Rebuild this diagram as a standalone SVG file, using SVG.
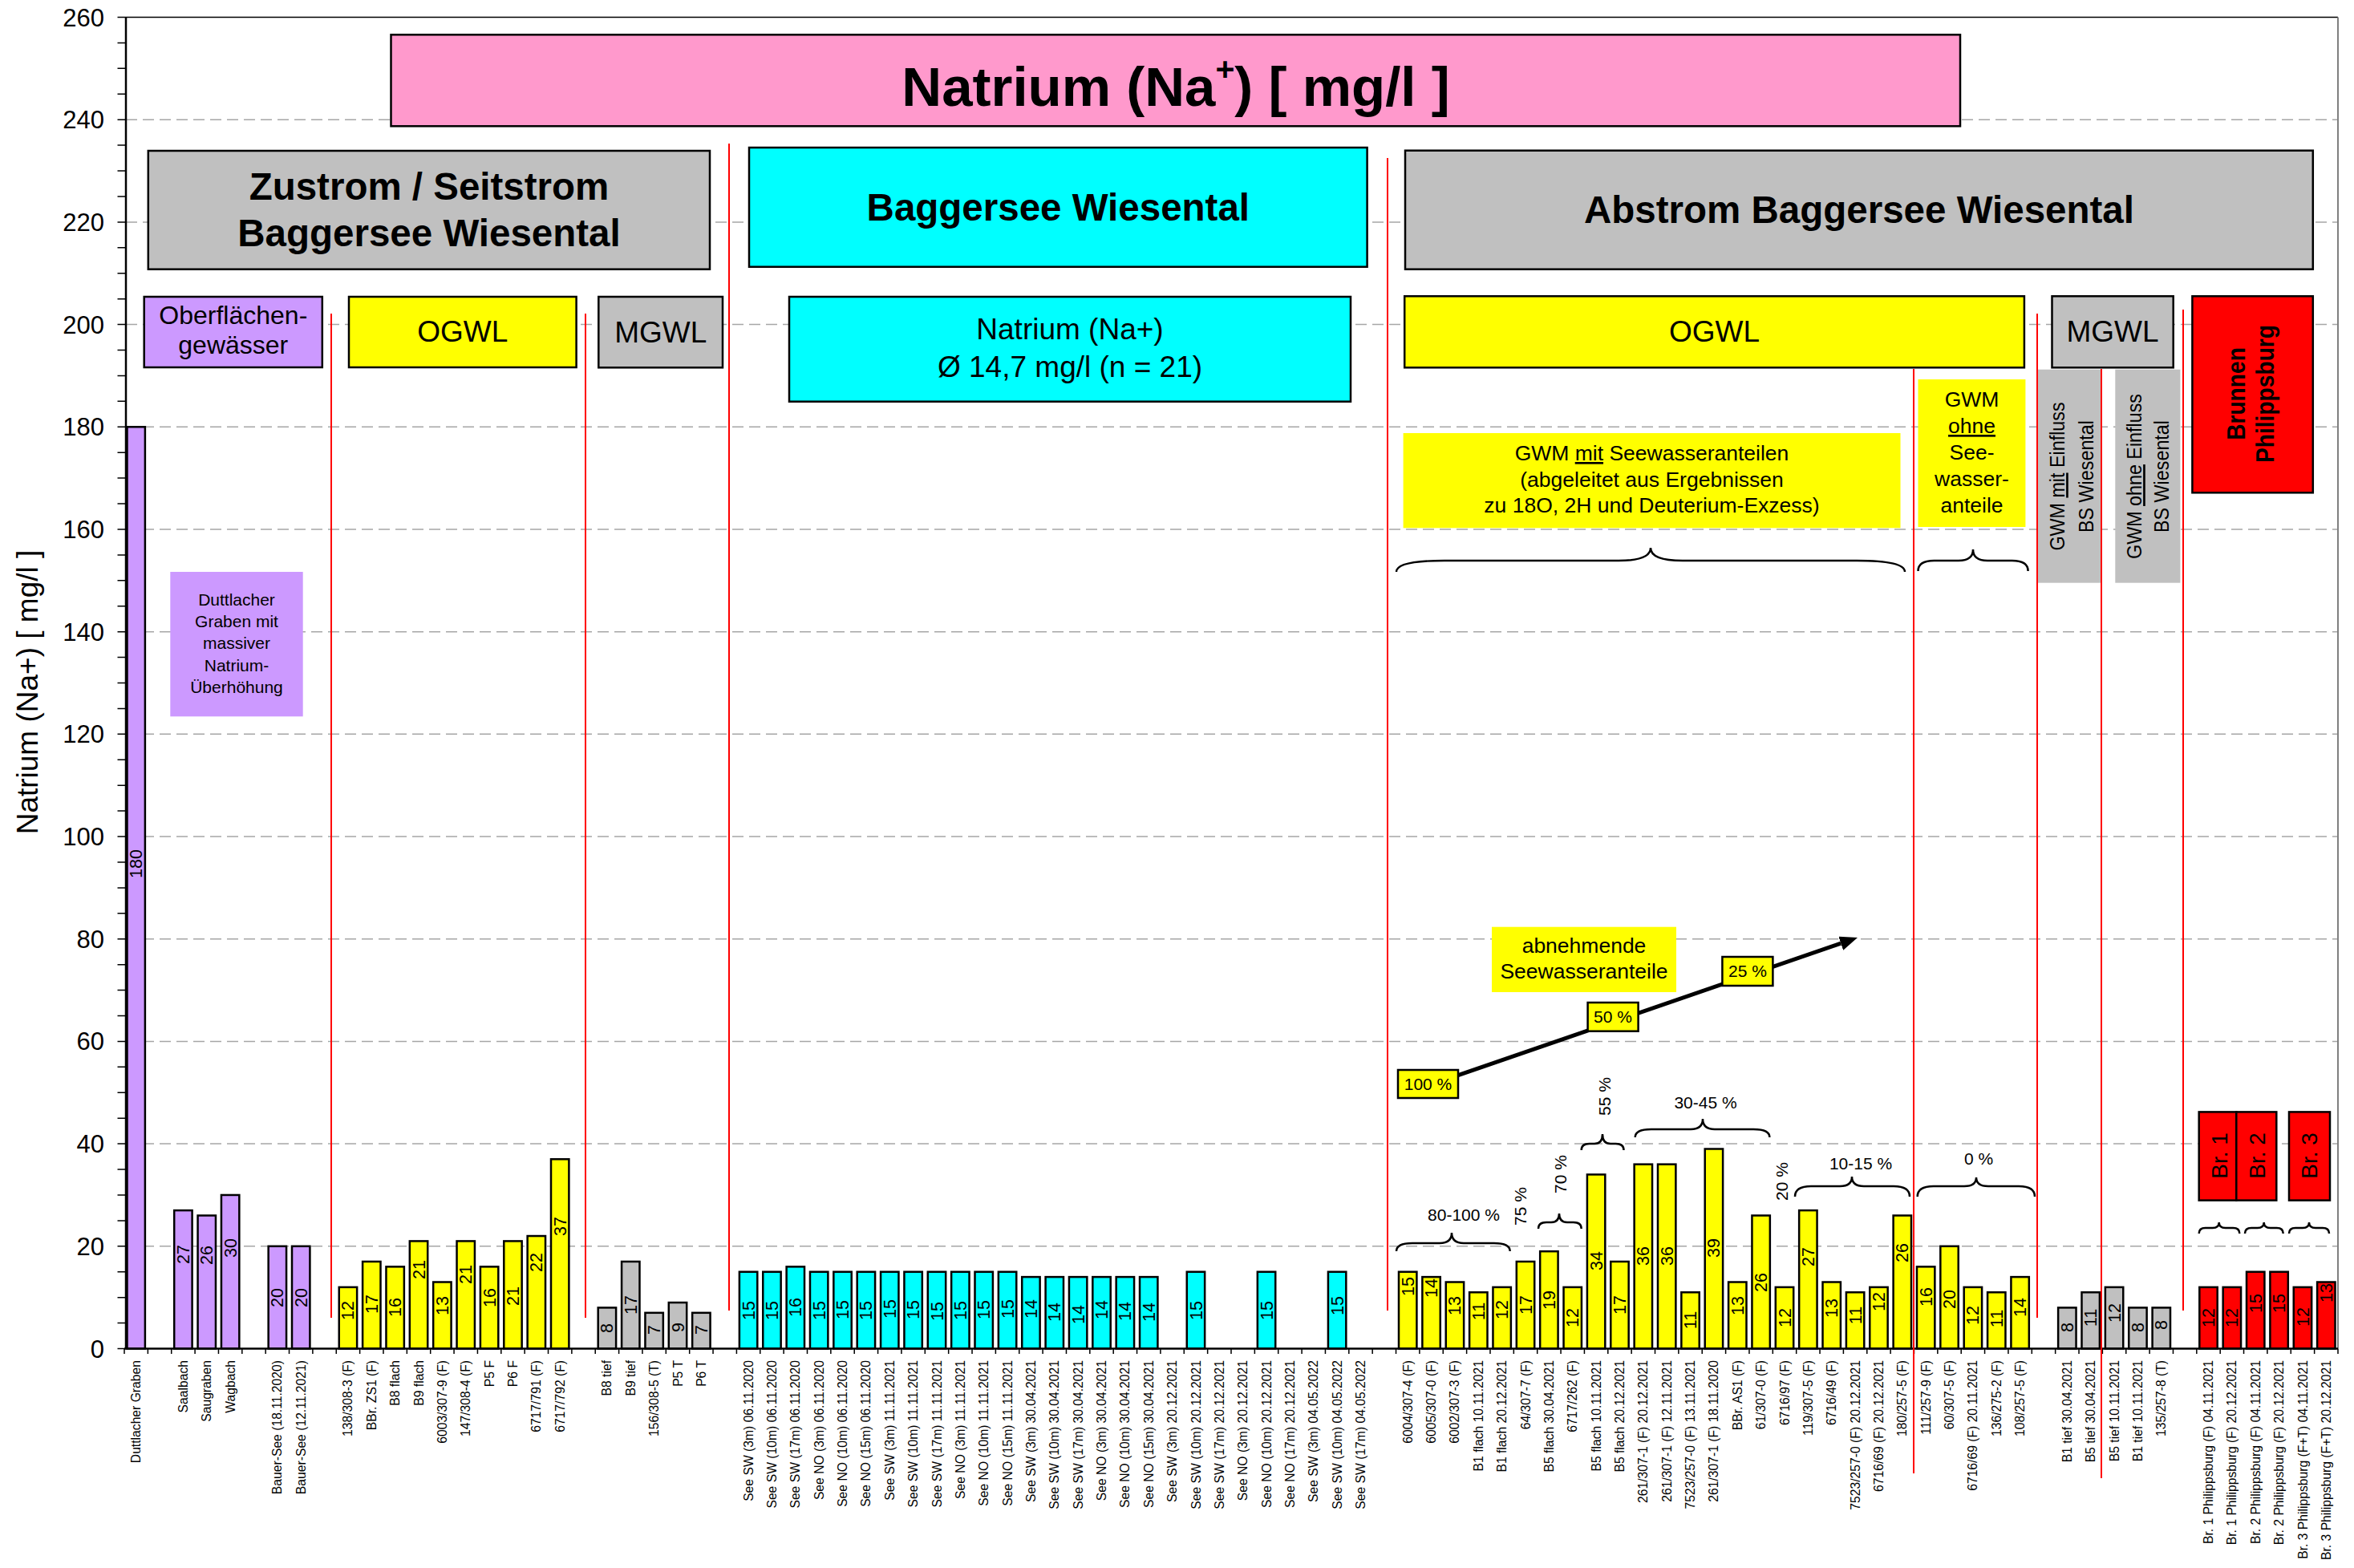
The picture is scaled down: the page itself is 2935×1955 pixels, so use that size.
<svg xmlns="http://www.w3.org/2000/svg" width="2935" height="1955" viewBox="0 0 2935 1955">
<defs>
<style>
text{font-family:"Liberation Sans",Arial,sans-serif;fill:#000}
.yl{font-size:31px;text-anchor:end}
.xl{font-size:15.7px;text-anchor:end}
.v{font-size:21.5px;text-anchor:middle}
.m{text-anchor:middle}
.h{font-size:47.5px;font-weight:bold;text-anchor:middle}
.s37{font-size:37px;text-anchor:middle}
.b{stroke:#000;stroke-width:2.5}
.bx{stroke:#000;stroke-width:2.5}
.p{fill:#CC99FF}.y{fill:#FFFF00}.g{fill:#C0C0C0}.c{fill:#00FFFF}.r{fill:#FF0000}.k{fill:#FF99CC}
.grid{fill:none;stroke:#A6A6A6;stroke-width:1.5;stroke-dasharray:14 7}
.tick{fill:none;stroke:#000;stroke-width:1.5}
.sep{fill:none;stroke:#FF0000;stroke-width:2}
.brace{fill:none;stroke:#000;stroke-width:2.5}
.pc{font-size:21px;text-anchor:middle}
.n26{font-size:26.5px;text-anchor:middle}
.rv{font-size:26.5px;text-anchor:middle}
</style>
<marker id="ah" markerWidth="4.4" markerHeight="3.6" refX="0" refY="1.8" orient="auto" markerUnits="strokeWidth">
<path d="M0,0 L4.4,1.8 L0,3.6 z" fill="#000"/>
</marker>
</defs>
<rect width="2935" height="1955" fill="#fff"/>

<!-- horizontal gridlines every 20 mg/l -->
<g id="grid">
<path class="grid" d="M157 1553.81H2914M157 1426.12H2914M157 1298.42H2914M157 1170.73H2914M157 1043.04H2914M157 915.35H2914M157 787.65H2914M157 659.96H2914M157 532.27H2914M157 404.58H2914M157 276.88H2914M157 149.19H2914"/>
</g>

<!-- axes, ticks and tick labels -->
<g id="axes">
<path d="M157 21.5H2915" fill="none" stroke="#000" stroke-width="1.5"/>
<path d="M2915 21.5V1681.5" fill="none" stroke="#808080" stroke-width="2"/>
<path class="tick" d="M146.5 1681.5H157M146.5 1649.58H157M146.5 1617.65H157M146.5 1585.73H157M146.5 1553.81H157M146.5 1521.88H157M146.5 1489.96H157M146.5 1458.04H157M146.5 1426.12H157M146.5 1394.19H157M146.5 1362.27H157M146.5 1330.35H157M146.5 1298.42H157M146.5 1266.5H157M146.5 1234.58H157M146.5 1202.65H157M146.5 1170.73H157M146.5 1138.81H157M146.5 1106.88H157M146.5 1074.96H157M146.5 1043.04H157M146.5 1011.12H157M146.5 979.19H157M146.5 947.27H157M146.5 915.35H157M146.5 883.42H157M146.5 851.5H157M146.5 819.58H157M146.5 787.65H157M146.5 755.73H157M146.5 723.81H157M146.5 691.88H157M146.5 659.96H157M146.5 628.04H157M146.5 596.12H157M146.5 564.19H157M146.5 532.27H157M146.5 500.35H157M146.5 468.42H157M146.5 436.5H157M146.5 404.58H157M146.5 372.65H157M146.5 340.73H157M146.5 308.81H157M146.5 276.88H157M146.5 244.96H157M146.5 213.04H157M146.5 181.12H157M146.5 149.19H157M146.5 117.27H157M146.5 85.35H157M146.5 53.42H157M146.5 21.5H157"/>
<path class="tick" d="M155 1681.5V1688M184.36 1681.5V1688M213.72 1681.5V1688M243.09 1681.5V1688M272.45 1681.5V1688M301.81 1681.5V1688M331.17 1681.5V1688M360.53 1681.5V1688M389.89 1681.5V1688M419.26 1681.5V1688M448.62 1681.5V1688M477.98 1681.5V1688M507.34 1681.5V1688M536.7 1681.5V1688M566.06 1681.5V1688M595.43 1681.5V1688M624.79 1681.5V1688M654.15 1681.5V1688M683.51 1681.5V1688M712.87 1681.5V1688M742.23 1681.5V1688M771.6 1681.5V1688M800.96 1681.5V1688M830.32 1681.5V1688M859.68 1681.5V1688M889.04 1681.5V1688M918.4 1681.5V1688M947.77 1681.5V1688M977.13 1681.5V1688M1006.49 1681.5V1688M1035.85 1681.5V1688M1065.21 1681.5V1688M1094.57 1681.5V1688M1123.94 1681.5V1688M1153.3 1681.5V1688M1182.66 1681.5V1688M1212.02 1681.5V1688M1241.38 1681.5V1688M1270.74 1681.5V1688M1300.11 1681.5V1688M1329.47 1681.5V1688M1358.83 1681.5V1688M1388.19 1681.5V1688M1417.55 1681.5V1688M1446.91 1681.5V1688M1476.28 1681.5V1688M1505.64 1681.5V1688M1535 1681.5V1688M1564.36 1681.5V1688M1593.72 1681.5V1688M1623.09 1681.5V1688M1652.45 1681.5V1688M1681.81 1681.5V1688M1711.17 1681.5V1688M1740.53 1681.5V1688M1769.89 1681.5V1688M1799.26 1681.5V1688M1828.62 1681.5V1688M1857.98 1681.5V1688M1887.34 1681.5V1688M1916.7 1681.5V1688M1946.06 1681.5V1688M1975.43 1681.5V1688M2004.79 1681.5V1688M2034.15 1681.5V1688M2063.51 1681.5V1688M2092.87 1681.5V1688M2122.23 1681.5V1688M2151.6 1681.5V1688M2180.96 1681.5V1688M2210.32 1681.5V1688M2239.68 1681.5V1688M2269.04 1681.5V1688M2298.4 1681.5V1688M2327.77 1681.5V1688M2357.13 1681.5V1688M2386.49 1681.5V1688M2415.85 1681.5V1688M2445.21 1681.5V1688M2474.57 1681.5V1688M2503.94 1681.5V1688M2533.3 1681.5V1688M2562.66 1681.5V1688M2592.02 1681.5V1688M2621.38 1681.5V1688M2650.74 1681.5V1688M2680.11 1681.5V1688M2709.47 1681.5V1688M2738.83 1681.5V1688M2768.19 1681.5V1688M2797.55 1681.5V1688M2826.91 1681.5V1688M2856.28 1681.5V1688M2885.64 1681.5V1688M2915 1681.5V1688"/>
<text class="yl" x="130" y="1692.5">0</text>
<text class="yl" x="130" y="1564.8">20</text>
<text class="yl" x="130" y="1437.1">40</text>
<text class="yl" x="130" y="1309.4">60</text>
<text class="yl" x="130" y="1181.7">80</text>
<text class="yl" x="130" y="1054">100</text>
<text class="yl" x="130" y="926.4">120</text>
<text class="yl" x="130" y="798.7">140</text>
<text class="yl" x="130" y="671">160</text>
<text class="yl" x="130" y="543.3">180</text>
<text class="yl" x="130" y="415.6">200</text>
<text class="yl" x="130" y="287.9">220</text>
<text class="yl" x="130" y="160.2">240</text>
<text class="yl" x="130" y="32.5">260</text>
<text class="m" font-size="37" transform="translate(46.7 863) rotate(-90)">Natrium (Na+) [ mg/l ]</text>
</g>

<!-- bars: one per sample, baseline y=1681.5, 6.3846 px per mg/l -->
<g id="bars">
<rect class="b p" x="158.48" y="532.27" width="22.4" height="1149.23"/>
<rect class="b p" x="217.2" y="1509.12" width="22.4" height="172.38"/>
<rect class="b p" x="246.57" y="1515.5" width="22.4" height="166"/>
<rect class="b p" x="275.93" y="1489.96" width="22.4" height="191.54"/>
<rect class="b p" x="334.65" y="1553.81" width="22.4" height="127.69"/>
<rect class="b p" x="364.01" y="1553.81" width="22.4" height="127.69"/>
<rect class="b y" x="422.74" y="1604.88" width="22.4" height="76.62"/>
<rect class="b y" x="452.1" y="1572.96" width="22.4" height="108.54"/>
<rect class="b y" x="481.46" y="1579.35" width="22.4" height="102.15"/>
<rect class="b y" x="510.82" y="1547.42" width="22.4" height="134.08"/>
<rect class="b y" x="540.18" y="1598.5" width="22.4" height="83"/>
<rect class="b y" x="569.54" y="1547.42" width="22.4" height="134.08"/>
<rect class="b y" x="598.91" y="1579.35" width="22.4" height="102.15"/>
<rect class="b y" x="628.27" y="1547.42" width="22.4" height="134.08"/>
<rect class="b y" x="657.63" y="1541.04" width="22.4" height="140.46"/>
<rect class="b y" x="686.99" y="1445.27" width="22.4" height="236.23"/>
<rect class="b g" x="745.71" y="1630.42" width="22.4" height="51.08"/>
<rect class="b g" x="775.08" y="1572.96" width="22.4" height="108.54"/>
<rect class="b g" x="804.44" y="1636.81" width="22.4" height="44.69"/>
<rect class="b g" x="833.8" y="1624.04" width="22.4" height="57.46"/>
<rect class="b g" x="863.16" y="1636.81" width="22.4" height="44.69"/>
<rect class="b c" x="921.89" y="1585.73" width="22.4" height="95.77"/>
<rect class="b c" x="951.25" y="1585.73" width="22.4" height="95.77"/>
<rect class="b c" x="980.61" y="1579.35" width="22.4" height="102.15"/>
<rect class="b c" x="1009.97" y="1585.73" width="22.4" height="95.77"/>
<rect class="b c" x="1039.33" y="1585.73" width="22.4" height="95.77"/>
<rect class="b c" x="1068.69" y="1585.73" width="22.4" height="95.77"/>
<rect class="b c" x="1098.06" y="1585.73" width="22.4" height="95.77"/>
<rect class="b c" x="1127.42" y="1585.73" width="22.4" height="95.77"/>
<rect class="b c" x="1156.78" y="1585.73" width="22.4" height="95.77"/>
<rect class="b c" x="1186.14" y="1585.73" width="22.4" height="95.77"/>
<rect class="b c" x="1215.5" y="1585.73" width="22.4" height="95.77"/>
<rect class="b c" x="1244.86" y="1585.73" width="22.4" height="95.77"/>
<rect class="b c" x="1274.23" y="1592.12" width="22.4" height="89.38"/>
<rect class="b c" x="1303.59" y="1592.12" width="22.4" height="89.38"/>
<rect class="b c" x="1332.95" y="1592.12" width="22.4" height="89.38"/>
<rect class="b c" x="1362.31" y="1592.12" width="22.4" height="89.38"/>
<rect class="b c" x="1391.67" y="1592.12" width="22.4" height="89.38"/>
<rect class="b c" x="1421.03" y="1592.12" width="22.4" height="89.38"/>
<rect class="b c" x="1479.76" y="1585.73" width="22.4" height="95.77"/>
<rect class="b c" x="1567.84" y="1585.73" width="22.4" height="95.77"/>
<rect class="b c" x="1655.93" y="1585.73" width="22.4" height="95.77"/>
<rect class="b y" x="1744.01" y="1585.73" width="22.4" height="95.77"/>
<rect class="b y" x="1773.37" y="1592.12" width="22.4" height="89.38"/>
<rect class="b y" x="1802.74" y="1598.5" width="22.4" height="83"/>
<rect class="b y" x="1832.1" y="1611.27" width="22.4" height="70.23"/>
<rect class="b y" x="1861.46" y="1604.88" width="22.4" height="76.62"/>
<rect class="b y" x="1890.82" y="1572.96" width="22.4" height="108.54"/>
<rect class="b y" x="1920.18" y="1560.19" width="22.4" height="121.31"/>
<rect class="b y" x="1949.54" y="1604.88" width="22.4" height="76.62"/>
<rect class="b y" x="1978.91" y="1464.42" width="22.4" height="217.08"/>
<rect class="b y" x="2008.27" y="1572.96" width="22.4" height="108.54"/>
<rect class="b y" x="2037.63" y="1451.65" width="22.4" height="229.85"/>
<rect class="b y" x="2066.99" y="1451.65" width="22.4" height="229.85"/>
<rect class="b y" x="2096.35" y="1611.27" width="22.4" height="70.23"/>
<rect class="b y" x="2125.71" y="1432.5" width="22.4" height="249"/>
<rect class="b y" x="2155.08" y="1598.5" width="22.4" height="83"/>
<rect class="b y" x="2184.44" y="1515.5" width="22.4" height="166"/>
<rect class="b y" x="2213.8" y="1604.88" width="22.4" height="76.62"/>
<rect class="b y" x="2243.16" y="1509.12" width="22.4" height="172.38"/>
<rect class="b y" x="2272.52" y="1598.5" width="22.4" height="83"/>
<rect class="b y" x="2301.89" y="1611.27" width="22.4" height="70.23"/>
<rect class="b y" x="2331.25" y="1604.88" width="22.4" height="76.62"/>
<rect class="b y" x="2360.61" y="1515.5" width="22.4" height="166"/>
<rect class="b y" x="2389.97" y="1579.35" width="22.4" height="102.15"/>
<rect class="b y" x="2419.33" y="1553.81" width="22.4" height="127.69"/>
<rect class="b y" x="2448.69" y="1604.88" width="22.4" height="76.62"/>
<rect class="b y" x="2478.06" y="1611.27" width="22.4" height="70.23"/>
<rect class="b y" x="2507.42" y="1592.12" width="22.4" height="89.38"/>
<rect class="b g" x="2566.14" y="1630.42" width="22.4" height="51.08"/>
<rect class="b g" x="2595.5" y="1611.27" width="22.4" height="70.23"/>
<rect class="b g" x="2624.86" y="1604.88" width="22.4" height="76.62"/>
<rect class="b g" x="2654.23" y="1630.42" width="22.4" height="51.08"/>
<rect class="b g" x="2683.59" y="1630.42" width="22.4" height="51.08"/>
<rect class="b r" x="2742.31" y="1604.88" width="22.4" height="76.62"/>
<rect class="b r" x="2771.67" y="1604.88" width="22.4" height="76.62"/>
<rect class="b r" x="2801.03" y="1585.73" width="22.4" height="95.77"/>
<rect class="b r" x="2830.4" y="1585.73" width="22.4" height="95.77"/>
<rect class="b r" x="2859.76" y="1604.88" width="22.4" height="76.62"/>
<rect class="b r" x="2889.12" y="1598.5" width="22.4" height="83"/>
</g>

<!-- axis lines on top of the bars -->
<path d="M157 21.5V1681.5" fill="none" stroke="#000" stroke-width="2.5"/>
<path d="M155 1681.5H2915" fill="none" stroke="#000" stroke-width="2.5"/>

<!-- value labels inside bars -->
<g id="value-labels">
<text class="v" transform="translate(177.2 1077) rotate(-90)">180</text>
<text class="v" transform="translate(235.9 1564) rotate(-90)">27</text>
<text class="v" transform="translate(265.3 1565) rotate(-90)">26</text>
<text class="v" transform="translate(294.6 1556) rotate(-90)">30</text>
<text class="v" transform="translate(353.4 1618) rotate(-90)">20</text>
<text class="v" transform="translate(382.7 1618) rotate(-90)">20</text>
<text class="v" transform="translate(441.4 1634) rotate(-90)">12</text>
<text class="v" transform="translate(470.8 1626) rotate(-90)">17</text>
<text class="v" transform="translate(500.2 1630) rotate(-90)">16</text>
<text class="v" transform="translate(529.5 1583) rotate(-90)">21</text>
<text class="v" transform="translate(558.9 1628) rotate(-90)">13</text>
<text class="v" transform="translate(588.2 1589) rotate(-90)">21</text>
<text class="v" transform="translate(617.6 1618) rotate(-90)">16</text>
<text class="v" transform="translate(647 1616) rotate(-90)">21</text>
<text class="v" transform="translate(676.3 1574) rotate(-90)">22</text>
<text class="v" transform="translate(705.7 1529) rotate(-90)">37</text>
<text class="v" transform="translate(764.4 1656) rotate(-90)">8</text>
<text class="v" transform="translate(793.8 1627) rotate(-90)">17</text>
<text class="v" transform="translate(823.1 1658) rotate(-90)">7</text>
<text class="v" transform="translate(852.5 1655) rotate(-90)">9</text>
<text class="v" transform="translate(881.9 1658) rotate(-90)">7</text>
<text class="v" transform="translate(940.6 1634) rotate(-90)">15</text>
<text class="v" transform="translate(970 1634) rotate(-90)">15</text>
<text class="v" transform="translate(999.3 1630) rotate(-90)">16</text>
<text class="v" transform="translate(1028.7 1634) rotate(-90)">15</text>
<text class="v" transform="translate(1058 1633) rotate(-90)">15</text>
<text class="v" transform="translate(1087.4 1634) rotate(-90)">15</text>
<text class="v" transform="translate(1116.8 1632) rotate(-90)">15</text>
<text class="v" transform="translate(1146.1 1633) rotate(-90)">15</text>
<text class="v" transform="translate(1175.5 1635) rotate(-90)">15</text>
<text class="v" transform="translate(1204.8 1634) rotate(-90)">15</text>
<text class="v" transform="translate(1234.2 1633) rotate(-90)">15</text>
<text class="v" transform="translate(1263.6 1632) rotate(-90)">15</text>
<text class="v" transform="translate(1292.9 1632) rotate(-90)">14</text>
<text class="v" transform="translate(1322.3 1636) rotate(-90)">14</text>
<text class="v" transform="translate(1351.7 1639) rotate(-90)">14</text>
<text class="v" transform="translate(1381 1633) rotate(-90)">14</text>
<text class="v" transform="translate(1410.4 1635) rotate(-90)">14</text>
<text class="v" transform="translate(1439.7 1636) rotate(-90)">14</text>
<text class="v" transform="translate(1498.5 1634) rotate(-90)">15</text>
<text class="v" transform="translate(1586.5 1634) rotate(-90)">15</text>
<text class="v" transform="translate(1674.6 1628) rotate(-90)">15</text>
<text class="v" transform="translate(1762.7 1604) rotate(-90)">15</text>
<text class="v" transform="translate(1792.1 1606) rotate(-90)">14</text>
<text class="v" transform="translate(1821.4 1628) rotate(-90)">13</text>
<text class="v" transform="translate(1850.8 1635) rotate(-90)">11</text>
<text class="v" transform="translate(1880.2 1633) rotate(-90)">12</text>
<text class="v" transform="translate(1909.5 1627) rotate(-90)">17</text>
<text class="v" transform="translate(1938.9 1621) rotate(-90)">19</text>
<text class="v" transform="translate(1968.2 1643) rotate(-90)">12</text>
<text class="v" transform="translate(1997.6 1572) rotate(-90)">34</text>
<text class="v" transform="translate(2027 1627) rotate(-90)">17</text>
<text class="v" transform="translate(2056.3 1566) rotate(-90)">36</text>
<text class="v" transform="translate(2085.7 1566) rotate(-90)">36</text>
<text class="v" transform="translate(2115.1 1646) rotate(-90)">11</text>
<text class="v" transform="translate(2144.4 1556) rotate(-90)">39</text>
<text class="v" transform="translate(2173.8 1628) rotate(-90)">13</text>
<text class="v" transform="translate(2203.1 1599) rotate(-90)">26</text>
<text class="v" transform="translate(2232.5 1643) rotate(-90)">12</text>
<text class="v" transform="translate(2261.9 1567) rotate(-90)">27</text>
<text class="v" transform="translate(2291.2 1631) rotate(-90)">13</text>
<text class="v" transform="translate(2320.6 1640) rotate(-90)">11</text>
<text class="v" transform="translate(2350 1623) rotate(-90)">12</text>
<text class="v" transform="translate(2379.3 1562) rotate(-90)">26</text>
<text class="v" transform="translate(2408.7 1617) rotate(-90)">16</text>
<text class="v" transform="translate(2438 1620) rotate(-90)">20</text>
<text class="v" transform="translate(2467.4 1640) rotate(-90)">12</text>
<text class="v" transform="translate(2496.8 1644) rotate(-90)">11</text>
<text class="v" transform="translate(2526.1 1630) rotate(-90)">14</text>
<text class="v" transform="translate(2584.8 1655) rotate(-90)">8</text>
<text class="v" transform="translate(2614.2 1643) rotate(-90)">11</text>
<text class="v" transform="translate(2643.6 1637) rotate(-90)">12</text>
<text class="v" transform="translate(2672.9 1655) rotate(-90)">8</text>
<text class="v" transform="translate(2702.3 1652) rotate(-90)">8</text>
<text class="v" transform="translate(2761 1643) rotate(-90)">12</text>
<text class="v" transform="translate(2790.4 1643) rotate(-90)">12</text>
<text class="v" transform="translate(2819.7 1625) rotate(-90)">15</text>
<text class="v" transform="translate(2849.1 1625) rotate(-90)">15</text>
<text class="v" transform="translate(2878.5 1642) rotate(-90)">12</text>
<text class="v" transform="translate(2907.8 1612) rotate(-90)">13</text>
</g>

<!-- category labels below the axis -->
<g id="category-labels">
<text class="xl" transform="translate(175.2 1696) rotate(-90)">Duttlacher Graben</text>
<text class="xl" transform="translate(233.9 1696) rotate(-90)">Saalbach</text>
<text class="xl" transform="translate(263.3 1696) rotate(-90)">Saugraben</text>
<text class="xl" transform="translate(292.6 1696) rotate(-90)">Wagbach</text>
<text class="xl" transform="translate(351.4 1696) rotate(-90)">Bauer-See (18.11.2020)</text>
<text class="xl" transform="translate(380.7 1696) rotate(-90)">Bauer-See (12.11.2021)</text>
<text class="xl" transform="translate(439.4 1696) rotate(-90)">138/308-3 (F)</text>
<text class="xl" transform="translate(468.8 1696) rotate(-90)">BBr. ZS1 (F)</text>
<text class="xl" transform="translate(498.2 1696) rotate(-90)">B8 flach</text>
<text class="xl" transform="translate(527.5 1696) rotate(-90)">B9 flach</text>
<text class="xl" transform="translate(556.9 1696) rotate(-90)">6003/307-9 (F)</text>
<text class="xl" transform="translate(586.2 1696) rotate(-90)">147/308-4 (F)</text>
<text class="xl" transform="translate(615.6 1696) rotate(-90)">P5 F</text>
<text class="xl" transform="translate(645 1696) rotate(-90)">P6 F</text>
<text class="xl" transform="translate(674.3 1696) rotate(-90)">6717/791 (F)</text>
<text class="xl" transform="translate(703.7 1696) rotate(-90)">6717/792 (F)</text>
<text class="xl" transform="translate(762.4 1696) rotate(-90)">B8 tief</text>
<text class="xl" transform="translate(791.8 1696) rotate(-90)">B9 tief</text>
<text class="xl" transform="translate(821.1 1696) rotate(-90)">156/308-5 (T)</text>
<text class="xl" transform="translate(850.5 1696) rotate(-90)">P5 T</text>
<text class="xl" transform="translate(879.9 1696) rotate(-90)">P6 T</text>
<text class="xl" transform="translate(938.6 1696) rotate(-90)">See SW (3m) 06.11.2020</text>
<text class="xl" transform="translate(968 1696) rotate(-90)">See SW (10m) 06.11.2020</text>
<text class="xl" transform="translate(997.3 1696) rotate(-90)">See SW (17m) 06.11.2020</text>
<text class="xl" transform="translate(1026.7 1696) rotate(-90)">See NO (3m) 06.11.2020</text>
<text class="xl" transform="translate(1056 1696) rotate(-90)">See NO (10m) 06.11.2020</text>
<text class="xl" transform="translate(1085.4 1696) rotate(-90)">See NO (15m) 06.11.2020</text>
<text class="xl" transform="translate(1114.8 1696) rotate(-90)">See SW (3m) 11.11.2021</text>
<text class="xl" transform="translate(1144.1 1696) rotate(-90)">See SW (10m) 11.11.2021</text>
<text class="xl" transform="translate(1173.5 1696) rotate(-90)">See SW (17m) 11.11.2021</text>
<text class="xl" transform="translate(1202.8 1696) rotate(-90)">See NO (3m) 11.11.2021</text>
<text class="xl" transform="translate(1232.2 1696) rotate(-90)">See NO (10m) 11.11.2021</text>
<text class="xl" transform="translate(1261.6 1696) rotate(-90)">See NO (15m) 11.11.2021</text>
<text class="xl" transform="translate(1290.9 1696) rotate(-90)">See SW (3m) 30.04.2021</text>
<text class="xl" transform="translate(1320.3 1696) rotate(-90)">See SW (10m) 30.04.2021</text>
<text class="xl" transform="translate(1349.7 1696) rotate(-90)">See SW (17m) 30.04.2021</text>
<text class="xl" transform="translate(1379 1696) rotate(-90)">See NO (3m) 30.04.2021</text>
<text class="xl" transform="translate(1408.4 1696) rotate(-90)">See NO (10m) 30.04.2021</text>
<text class="xl" transform="translate(1437.7 1696) rotate(-90)">See NO (15m) 30.04.2021</text>
<text class="xl" transform="translate(1467.1 1696) rotate(-90)">See SW (3m) 20.12.2021</text>
<text class="xl" transform="translate(1496.5 1696) rotate(-90)">See SW (10m) 20.12.2021</text>
<text class="xl" transform="translate(1525.8 1696) rotate(-90)">See SW (17m) 20.12.2021</text>
<text class="xl" transform="translate(1555.2 1696) rotate(-90)">See NO (3m) 20.12.2021</text>
<text class="xl" transform="translate(1584.5 1696) rotate(-90)">See NO (10m) 20.12.2021</text>
<text class="xl" transform="translate(1613.9 1696) rotate(-90)">See NO (17m) 20.12.2021</text>
<text class="xl" transform="translate(1643.3 1696) rotate(-90)">See SW (3m) 04.05.2022</text>
<text class="xl" transform="translate(1672.6 1696) rotate(-90)">See SW (10m) 04.05.2022</text>
<text class="xl" transform="translate(1702 1696) rotate(-90)">See SW (17m) 04.05.2022</text>
<text class="xl" transform="translate(1760.7 1696) rotate(-90)">6004/307-4 (F)</text>
<text class="xl" transform="translate(1790.1 1696) rotate(-90)">6005/307-0 (F)</text>
<text class="xl" transform="translate(1819.4 1696) rotate(-90)">6002/307-3 (F)</text>
<text class="xl" transform="translate(1848.8 1696) rotate(-90)">B1 flach 10.11.2021</text>
<text class="xl" transform="translate(1878.2 1696) rotate(-90)">B1 flach 20.12.2021</text>
<text class="xl" transform="translate(1907.5 1696) rotate(-90)">64/307-7 (F)</text>
<text class="xl" transform="translate(1936.9 1696) rotate(-90)">B5 flach 30.04.2021</text>
<text class="xl" transform="translate(1966.2 1696) rotate(-90)">6717/262 (F)</text>
<text class="xl" transform="translate(1995.6 1696) rotate(-90)">B5 flach 10.11.2021</text>
<text class="xl" transform="translate(2025 1696) rotate(-90)">B5 flach 20.12.2021</text>
<text class="xl" transform="translate(2054.3 1696) rotate(-90)">261/307-1 (F) 20.12.2021</text>
<text class="xl" transform="translate(2083.7 1696) rotate(-90)">261/307-1 (F) 12.11.2021</text>
<text class="xl" transform="translate(2113.1 1696) rotate(-90)">7523/257-0 (F) 13.11.2021</text>
<text class="xl" transform="translate(2142.4 1696) rotate(-90)">261/307-1 (F) 18.11.2020</text>
<text class="xl" transform="translate(2171.8 1696) rotate(-90)">BBr. AS1 (F)</text>
<text class="xl" transform="translate(2201.1 1696) rotate(-90)">61/307-0 (F)</text>
<text class="xl" transform="translate(2230.5 1696) rotate(-90)">6716/97 (F)</text>
<text class="xl" transform="translate(2259.9 1696) rotate(-90)">119/307-5 (F)</text>
<text class="xl" transform="translate(2289.2 1696) rotate(-90)">6716/49 (F)</text>
<text class="xl" transform="translate(2318.6 1696) rotate(-90)">7523/257-0 (F) 20.12.2021</text>
<text class="xl" transform="translate(2348 1696) rotate(-90)">6716/69 (F) 20.12.2021</text>
<text class="xl" transform="translate(2377.3 1696) rotate(-90)">180/257-5 (F)</text>
<text class="xl" transform="translate(2406.7 1696) rotate(-90)">111/257-9 (F)</text>
<text class="xl" transform="translate(2436 1696) rotate(-90)">60/307-5 (F)</text>
<text class="xl" transform="translate(2465.4 1696) rotate(-90)">6716/69 (F) 20.11.2021</text>
<text class="xl" transform="translate(2494.8 1696) rotate(-90)">136/275-2 (F)</text>
<text class="xl" transform="translate(2524.1 1696) rotate(-90)">108/257-5 (F)</text>
<text class="xl" transform="translate(2582.8 1696) rotate(-90)">B1 tief 30.04.2021</text>
<text class="xl" transform="translate(2612.2 1696) rotate(-90)">B5 tief 30.04.2021</text>
<text class="xl" transform="translate(2641.6 1696) rotate(-90)">B5 tief 10.11.2021</text>
<text class="xl" transform="translate(2670.9 1696) rotate(-90)">B1 tief 10.11.2021</text>
<text class="xl" transform="translate(2700.3 1696) rotate(-90)">135/257-8 (T)</text>
<text class="xl" transform="translate(2759 1696) rotate(-90)">Br. 1 Philippsburg (F) 04.11.2021</text>
<text class="xl" transform="translate(2788.4 1696) rotate(-90)">Br. 1 Philippsburg (F) 20.12.2021</text>
<text class="xl" transform="translate(2817.7 1696) rotate(-90)">Br. 2 Philippsburg (F) 04.11.2021</text>
<text class="xl" transform="translate(2847.1 1696) rotate(-90)">Br. 2 Philippsburg (F) 20.12.2021</text>
<text class="xl" transform="translate(2876.5 1696) rotate(-90)">Br. 3 Philippsburg (F+T) 04.11.2021</text>
<text class="xl" transform="translate(2905.8 1696) rotate(-90)">Br. 3 Philippsburg (F+T) 20.12.2021</text>
</g>

<!-- title -->
<g id="title">
<rect class="bx k" x="487.5" y="43.3" width="1956.5" height="114"/>
<text x="1466" y="131.7" font-size="69" font-weight="bold" text-anchor="middle">Natrium (Na<tspan font-size="41" dy="-32">+</tspan><tspan dy="32">) [ mg/l ]</tspan></text>
</g>

<!-- section headers -->
<g id="hdr-zustrom">
<rect class="bx g" x="184.8" y="188" width="700.2" height="147.7"/>
<text class="h" x="535" y="248.5">Zustrom / Seitstrom</text>
<text class="h" x="535" y="307">Baggersee Wiesental</text>
</g>
<g id="hdr-see">
<rect class="bx c" x="934" y="184" width="770.6" height="148.7"/>
<text class="h" x="1319.3" y="275">Baggersee Wiesental</text>
</g>
<g id="hdr-abstrom">
<rect class="bx g" x="1752" y="187.7" width="1131.8" height="148"/>
<text class="h" x="2318" y="277.7">Abstrom Baggersee Wiesental</text>
</g>

<!-- sub-group boxes -->
<g id="sub-oberflaeche">
<rect class="bx p" x="179.7" y="370" width="222.1" height="88"/>
<text class="m" font-size="32" x="290.8" y="404">Oberflächen-</text>
<text class="m" font-size="32" x="290.8" y="441">gewässer</text>
</g>
<g id="sub-ogwl-zustrom">
<rect class="bx y" x="435" y="370" width="283.6" height="88"/>
<text class="s37" x="576.8" y="426">OGWL</text>
</g>
<g id="sub-mgwl-zustrom">
<rect class="bx g" x="746.3" y="370" width="154.7" height="88.3"/>
<text class="s37" x="823.7" y="426.7">MGWL</text>
</g>
<g id="sub-see-mittel">
<rect class="bx c" x="984" y="370" width="700" height="130.7"/>
<text class="s37" x="1334" y="423.3">Natrium (Na+)</text>
<text class="s37" x="1334" y="470">Ø 14,7 mg/l (n = 21)</text>
</g>
<g id="sub-ogwl-abstrom">
<rect class="bx y" x="1751.2" y="369.3" width="772.7" height="89"/>
<text class="s37" x="2137.5" y="426">OGWL</text>
</g>
<g id="sub-mgwl-abstrom">
<rect class="bx g" x="2558.5" y="369.3" width="151.2" height="89"/>
<text class="s37" x="2634" y="426">MGWL</text>
</g>
<g id="sub-brunnen">
<rect class="bx r" x="2733.4" y="369.3" width="150.4" height="245"/>
<text class="m" font-size="32" font-weight="bold" transform="translate(2799 491) rotate(-90) scale(0.88 1)">Brunnen</text>
<text class="m" font-size="32" font-weight="bold" transform="translate(2835 491) rotate(-90) scale(0.88 1)">Philippsburg</text>
</g>

<!-- annotation notes -->
<g id="note-duttlach">
<rect class="p" x="212.3" y="713" width="165.4" height="180.3"/>
<text class="m" font-size="21" x="295" y="755">Duttlacher</text>
<text class="m" font-size="21" x="295" y="782.2">Graben mit</text>
<text class="m" font-size="21" x="295" y="809.4">massiver</text>
<text class="m" font-size="21" x="295" y="836.6">Natrium-</text>
<text class="m" font-size="21" x="295" y="863.8">Überhöhung</text>
</g>
<g id="note-gwm-mit-see">
<rect class="y" x="1749.6" y="540" width="619.9" height="118.3"/>
<text class="n26" x="2059.5" y="574">GWM <tspan text-decoration="underline">mit</tspan> Seewasseranteilen</text>
<text class="n26" x="2059.5" y="606.7">(abgeleitet aus Ergebnissen</text>
<text class="n26" x="2059.5" y="638.5">zu 18O, 2H und Deuterium-Exzess)</text>
</g>
<g id="note-gwm-ohne-see">
<rect class="y" x="2391.5" y="473" width="133.9" height="184"/>
<text class="n26" x="2458.5" y="506.5">GWM</text>
<text class="n26" x="2458.5" y="540"><tspan text-decoration="underline">ohne</tspan></text>
<text class="n26" x="2458.5" y="573">See-</text>
<text class="n26" x="2458.5" y="606">wasser-</text>
<text class="n26" x="2458.5" y="639">anteile</text>
</g>
<g id="note-mgwl-mit">
<rect class="g" x="2541" y="460.7" width="79" height="266"/>
<text class="rv" transform="translate(2574 594) rotate(-90) scale(0.88 1)">GWM <tspan text-decoration="underline">mit</tspan> Einfluss</text>
<text class="rv" transform="translate(2609.5 594) rotate(-90) scale(0.88 1)">BS Wiesental</text>
</g>
<g id="note-mgwl-ohne">
<rect class="g" x="2637.3" y="460.7" width="81.1" height="266"/>
<text class="rv" transform="translate(2670 594) rotate(-90) scale(0.88 1)">GWM <tspan text-decoration="underline">ohne</tspan> Einfluss</text>
<text class="rv" transform="translate(2704 594) rotate(-90) scale(0.88 1)">BS Wiesental</text>
</g>
<g id="note-abnehmend">
<rect class="y" x="1860" y="1155.7" width="230" height="81.3"/>
<text class="n26" x="1975" y="1188">abnehmende</text>
<text class="n26" x="1975" y="1220">Seewasseranteile</text>
</g>
<g id="note-br1">
<rect class="bx r" x="2741.7" y="1386.4" width="46.6" height="110.2"/>
<text class="m" font-size="28" transform="translate(2777 1441) rotate(-90)">Br. 1</text>
</g>
<g id="note-br2">
<rect class="bx r" x="2788.3" y="1386.4" width="50" height="110.2"/>
<text class="m" font-size="28" transform="translate(2824 1441) rotate(-90)">Br. 2</text>
</g>
<g id="note-br3">
<rect class="bx r" x="2854" y="1386.4" width="51" height="110.2"/>
<text class="m" font-size="28" transform="translate(2889 1441) rotate(-90)">Br. 3</text>
</g>

<!-- red section separators -->
<g id="separators">
<path class="sep" d="M413 391V1643M730 391V1643M909 179V1634M1730 197V1634M2386 460V1837M2540 391V1643M2620 460V1843M2722 386V1634"/>
</g>

<!-- braces grouping bars, with their share labels -->
<g id="braces">
<path class="brace" d="M1741 713Q1741 699 1801 699L2018 699Q2058 699 2058 683Q2058 699 2098 699L2315 699Q2375 699 2375 713"/>
<path class="brace" d="M2391.5 712Q2391.5 699 2411.5 699L2442 699Q2460 699 2460 685Q2460 699 2478 699L2508.6 699Q2528.6 699 2528.6 712"/>
<path class="brace" d="M1741 1560Q1741 1550 1761 1550L1795 1550Q1810 1550 1810 1537Q1810 1550 1825 1550L1862.7 1550Q1882.7 1550 1882.7 1560"/>
<path class="brace" d="M1918 1532Q1918 1524 1928 1524L1934 1524Q1944 1524 1944 1513Q1944 1524 1954 1524L1961.7 1524Q1971.7 1524 1971.7 1532"/>
<path class="brace" d="M1971.7 1434Q1971.7 1426 1981.7 1426L1988 1426Q1998 1426 1998 1414Q1998 1426 2008 1426L2014.5 1426Q2024.5 1426 2024.5 1434"/>
<path class="brace" d="M2038.7 1418Q2038.7 1408 2058.7 1408L2108 1408Q2123 1408 2123 1395Q2123 1408 2138 1408L2186.4 1408Q2206.4 1408 2206.4 1418"/>
<path class="brace" d="M2238 1492Q2238 1479 2258 1479L2294 1479Q2309 1479 2309 1467Q2309 1479 2324 1479L2361 1479Q2381 1479 2381 1492"/>
<path class="brace" d="M2390.7 1492Q2390.7 1479 2410.7 1479L2449 1479Q2464 1479 2464 1468Q2464 1479 2479 1479L2517 1479Q2537 1479 2537 1492"/>
<path class="brace" d="M2741.7 1538Q2741.7 1531 2749.7 1531L2758.7 1531Q2766.7 1531 2766.7 1524Q2766.7 1531 2774.7 1531L2784.3 1531Q2792.3 1531 2792.3 1538"/>
<path class="brace" d="M2799 1538Q2799 1531 2807 1531L2814.7 1531Q2822.7 1531 2822.7 1524Q2822.7 1531 2830.7 1531L2838.7 1531Q2846.7 1531 2846.7 1538"/>
<path class="brace" d="M2854 1538Q2854 1531 2862 1531L2871 1531Q2879 1531 2879 1524Q2879 1531 2887 1531L2896 1531Q2904 1531 2904 1538"/>
<text class="pc" x="1825" y="1522">80-100 %</text>
<text class="pc" transform="translate(1903 1504) rotate(-90)">75 %</text>
<text class="pc" transform="translate(1953 1464) rotate(-90)">70 %</text>
<text class="pc" transform="translate(2008 1367) rotate(-90)">55 %</text>
<text class="pc" x="2126.5" y="1382">30-45 %</text>
<text class="pc" transform="translate(2229 1473) rotate(-90)">20 %</text>
<text class="pc" x="2320" y="1458">10-15 %</text>
<text class="pc" x="2467" y="1452">0 %</text>
</g>

<!-- trend arrow with share markers -->
<g id="connectors">
<path d="M1818 1340.7L2295.2 1176.2" fill="none" stroke="#000" stroke-width="5" marker-end="url(#ah)"/>
</g>
<g id="mark-100">
<rect class="bx y" x="1743" y="1334" width="75" height="35"/>
<text class="pc" x="1780.5" y="1359">100 %</text>
</g>
<g id="mark-50">
<rect class="bx y" x="1979.6" y="1250" width="63" height="35.7"/>
<text class="pc" x="2011" y="1275">50 %</text>
</g>
<g id="mark-25">
<rect class="bx y" x="2147.4" y="1193" width="63" height="36"/>
<text class="pc" x="2179" y="1218">25 %</text>
</g>
</svg>
